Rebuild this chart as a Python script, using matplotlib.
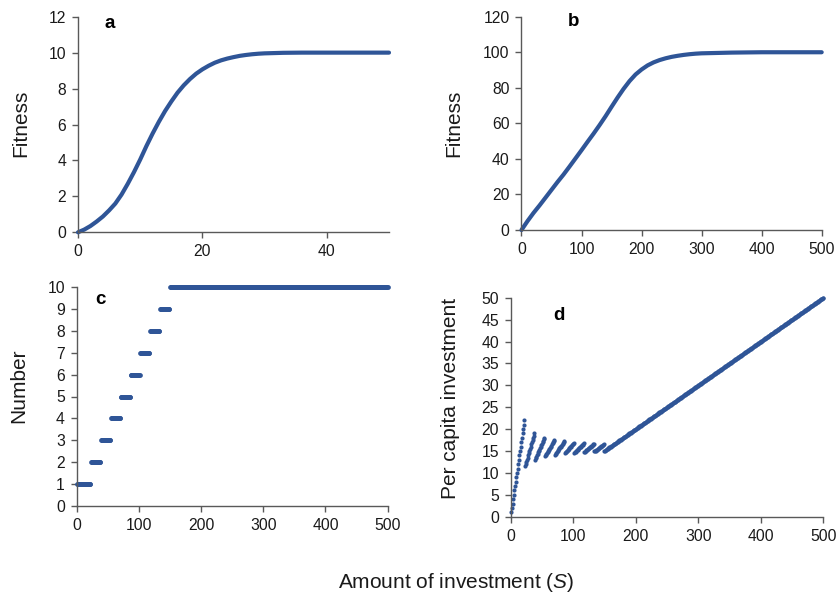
import numpy as np
import matplotlib
matplotlib.use("Agg")
import matplotlib.pyplot as plt

plt.rcParams['font.family'] = ['Liberation Sans', 'DejaVu Sans']
plt.rcParams['mathtext.fontset'] = 'custom'
plt.rcParams['mathtext.rm'] = 'Liberation Sans'
plt.rcParams['mathtext.it'] = 'Liberation Sans:italic'

# ---- data ----
# panel a: fitness vs investment (single)
a_S = [0, 1, 2, 3, 4, 5, 6, 7, 8, 9, 10, 11, 12, 13, 14, 15, 16, 17, 18, 19, 20,
       21, 22, 23, 24, 25, 26, 27, 28, 29, 30, 33, 36, 40, 45, 50]
a_fit = [0, 0.15, 0.35, 0.6, 0.88, 1.22, 1.6, 2.1, 2.7, 3.35, 4.05, 4.8, 5.5,
         6.15, 6.75, 7.28, 7.77, 8.18, 8.53, 8.83, 9.07, 9.27, 9.44, 9.57, 9.67, 9.75,
         9.82, 9.87, 9.91, 9.94, 9.96, 9.99, 10, 10, 10, 10]

# panel b: fitness vs investment (group)
b_S = [0, 10, 20, 30, 40, 50, 60, 70, 80, 90, 100, 110, 120, 130, 140, 150, 160,
       170, 180, 190, 200, 210, 220, 230, 240, 250, 260, 270, 280, 290, 300, 350,
       400, 450, 500]
b_fit = [0, 5, 9.6, 13.8, 18.2, 22.6, 27, 31.2, 35.7, 40.3, 44.9, 49.6, 54.2, 59,
         64, 69.3, 74.5, 79.4, 83.8, 87.5, 90.3, 92.6, 94.3, 95.6, 96.6, 97.4, 98.0,
         98.5, 98.9, 99.2, 99.4, 99.8, 100, 100, 100]

# panels c, d: optimal number and the investment range over which it holds
group_number = [1, 2, 3, 4, 5, 6, 7, 8, 9, 10]
group_S_start = [1, 23, 39, 55, 71, 87, 102, 118, 134, 150]
group_S_end = [22, 38, 54, 70, 86, 101, 117, 133, 149, 500]

# ---- expand step data ----
cd_S, cd_n = [], []
for n, s0, s1 in zip(group_number, group_S_start, group_S_end):
    s = np.arange(s0, s1 + 1)
    cd_S.append(s)
    cd_n.append(np.full(len(s), n))
cd_S = np.concatenate(cd_S)
cd_n = np.concatenate(cd_n)
cd_per_capita = cd_S / cd_n

BLUE = '#2F5597'
SPINE = '#595959'
TXT = '#1a1a1a'

W, H = 837, 599
fig = plt.figure(figsize=(W / 100, H / 100), dpi=100)


def ax_px(left, top, right, bottom):
    return fig.add_axes([left / W, 1 - bottom / H, (right - left) / W, (bottom - top) / H])


def style(ax):
    for s in ['top', 'right']:
        ax.spines[s].set_visible(False)
    for s in ['left', 'bottom']:
        ax.spines[s].set_color(SPINE)
        ax.spines[s].set_linewidth(1.0)
    ax.tick_params(direction='out', length=4, width=1, color=SPINE,
                   labelsize=11.3, labelcolor=TXT)
    ax.tick_params(axis='y', pad=4.5)
    ax.tick_params(axis='x', pad=4.5)


# panel a
axa = ax_px(78, 16.7, 389, 232.3)
axa.plot(a_S, a_fit, color=BLUE, lw=3.0, solid_capstyle='round', clip_on=False)
axa.set_xlim(0, 50)
axa.set_ylim(0, 12)
axa.set_xticks([0, 20, 40])
axa.set_yticks(range(0, 13, 2))
style(axa)
fig.text(110 / W, 1 - 23 / H, 'a', fontsize=13.5, fontweight='bold', ha='center', va='center')
fig.text(20.7 / W, 1 - 123 / H, 'Fitness', fontsize=15, rotation=90, ha='center', va='center', color=TXT)

# panel b
axb = ax_px(521.5, 16.7, 821.7, 230)
axb.plot(b_S, b_fit, color=BLUE, lw=3.0, solid_capstyle='round', clip_on=False)
axb.set_xlim(0, 500)
axb.set_ylim(0, 120)
axb.set_xticks(range(0, 501, 100))
axb.set_yticks(range(0, 121, 20))
style(axb)
fig.text(574 / W, 1 - 22 / H, 'b', fontsize=13.5, fontweight='bold', ha='center', va='center')
fig.text(453.3 / W, 1 - 123 / H, 'Fitness', fontsize=15, rotation=90, ha='center', va='center', color=TXT)

# panel c
axc = ax_px(76.7, 286.7, 387.7, 506.3)
axc.plot(cd_S, cd_n, ls='none', marker='o', ms=3.4, mew=0, color=BLUE, clip_on=False)
axc.set_xlim(0, 500)
axc.set_ylim(0, 10)
axc.set_xticks(range(0, 501, 100))
axc.set_yticks(range(0, 11, 1))
style(axc)
fig.text(100 / W, 1 - 299.5 / H, 'c', fontsize=13.5, fontweight='bold', ha='center', va='center')
fig.text(18.3 / W, 1 - 386 / H, 'Number', fontsize=15, rotation=90, ha='center', va='center', color=TXT)

# panel d
axd = ax_px(510.7, 297.7, 823.3, 516.7)
axd.plot(cd_S, cd_per_capita, ls='none', marker='o', ms=3.0, mew=0, color=BLUE, clip_on=False)
axd.set_xlim(0, 500)
axd.set_ylim(0, 50)
axd.set_xticks(range(0, 501, 100))
axd.set_yticks(range(0, 51, 5))
style(axd)
fig.text(559 / W, 1 - 315 / H, 'd', fontsize=13.5, fontweight='bold', ha='center', va='center')
fig.text(450.7 / W, 1 - 398 / H, 'Per capita investment', fontsize=15, rotation=90,
         ha='center', va='center', color=TXT)

fig.text(456.5 / W, 1 - 582 / H, 'Amount of investment ($\\mathit{S}$)', fontsize=15,
         ha='center', va='center', color=TXT)

fig.savefig('out.png', dpi=100)
